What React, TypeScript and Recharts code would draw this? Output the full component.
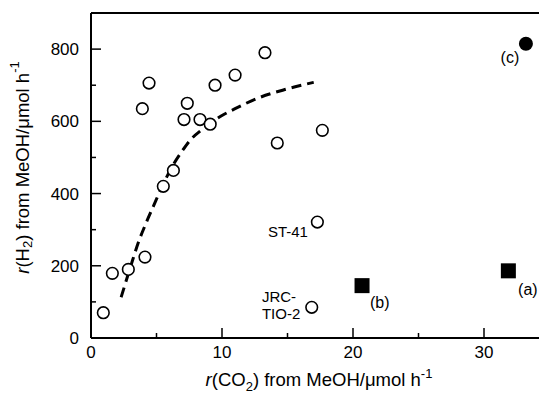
import React from 'react';
import {
  ComposedChart,
  Scatter,
  Line,
  XAxis,
  YAxis,
  ReferenceLine,
  ReferenceDot,
} from 'recharts';

// open circles: TiO2 samples
const openX = [0.94, 1.63, 2.85, 4.12, 5.52, 6.29, 7.1, 7.35, 8.32, 9.1, 9.47, 3.92, 4.43, 11.0, 13.28, 14.22, 17.66, 17.28, 16.85];
const openY = [70, 179, 190, 224, 420, 464, 605, 650, 605, 592, 700, 635, 706, 728, 790, 540, 575, 321, 85];

// filled squares (a), (b) and filled circle (c)
const squareX = [20.69, 31.86];
const squareY = [145, 186];
const dotX = [33.2];
const dotY = [815];

// dashed trend curve
const curveX = [2.3, 3.0, 3.6, 4.2, 4.8, 5.5, 6.2, 7.0, 7.6, 8.5, 9.3, 10.0, 11.0, 12.8, 14.8, 17.0];
const curveY = [113, 195, 263, 318, 368, 425, 475, 520, 549, 578, 600, 616, 635, 665, 688, 708];

const xTicks = [0, 5, 10, 15, 20, 25, 30, 35];
const yTicks = [0, 100, 200, 300, 400, 500, 600, 700, 800];

// text annotations anchored in data units
const notes = [
  { x: 31.98, y: 777, text: '(c)', anchor: 'middle', size: 16 },
  { x: 32.6, y: 133, text: '(a)', anchor: 'start', size: 16 },
  { x: 21.3, y: 97, text: '(b)', anchor: 'start', size: 16 },
  { x: 16.56, y: 294, text: 'ST-41', anchor: 'end', size: 15 },
  { x: 13.05, y: 114, text: 'JRC-', anchor: 'start', size: 15 },
  { x: 13.05, y: 69, text: 'TIO-2', anchor: 'start', size: 15 },
];

const FONT = '"Liberation Sans", Arial, sans-serif';

const openData = openX.map((x, i) => ({ x, y: openY[i] }));
const squareData = squareX.map((x, i) => ({ x, y: squareY[i] }));
const dotData = dotX.map((x, i) => ({ x, y: dotY[i] }));
const curveData = curveX.map((x, i) => ({ x, y: curveY[i] }));

const XTick = (props: any) => {
  const { x, y, payload } = props;
  const major = payload.value % 10 === 0;
  return (
    <g>
      <line x1={x} x2={x} y1={y} y2={y - (major ? 10 : 5)} stroke="#000" strokeWidth={1.5} />
      {major && (
        <text x={x} y={y + 20} textAnchor="middle" fontSize={17} fontFamily={FONT} fill="#000">
          {payload.value}
        </text>
      )}
    </g>
  );
};

const YTick = (props: any) => {
  const { x, y, payload } = props;
  const major = payload.value % 200 === 0;
  return (
    <g>
      <line x1={x} x2={x + (major ? 10 : 5)} y1={y} y2={y} stroke="#000" strokeWidth={1.5} />
      {major && (
        <text x={x - 12} y={y + 6} textAnchor="end" fontSize={17} fontFamily={FONT} fill="#000">
          {payload.value}
        </text>
      )}
    </g>
  );
};

const OpenCircle = (props: any) => (
  <circle cx={props.cx} cy={props.cy} r={5.8} fill="#fff" stroke="#000" strokeWidth={1.6} />
);
const FilledSquare = (props: any) => (
  <rect x={props.cx - 7.5} y={props.cy - 7.5} width={15} height={15} fill="#000" />
);
const FilledCircle = (props: any) => <circle cx={props.cx} cy={props.cy} r={7} fill="#000" />;

const YLabel = (props: any) => {
  const { viewBox } = props;
  const cx = 22;
  const cy = viewBox.y + viewBox.height / 2 - 8;
  return (
    <text
      x={cx}
      y={cy}
      transform={`rotate(-90, ${cx}, ${cy})`}
      textAnchor="middle"
      dominantBaseline="central"
      fontSize={18.5}
      fontFamily={FONT}
      fill="#000"
    >
      <tspan fontStyle="italic">r</tspan>
      <tspan>(H</tspan>
      <tspan fontSize={13} dy={5}>2</tspan>
      <tspan dy={-5}>) from MeOH/μmol h</tspan>
      <tspan fontSize={13} dy={-8}>-1</tspan>
    </text>
  );
};

const XLabel = (props: any) => {
  const { viewBox } = props;
  const cx = 319;
  const cy = viewBox.y + 48;
  return (
    <text x={cx} y={cy} textAnchor="middle" fontSize={18.5} fontFamily={FONT} fill="#000">
      <tspan fontStyle="italic">r</tspan>
      <tspan>(CO</tspan>
      <tspan fontSize={13} dy={5}>2</tspan>
      <tspan dy={-5}>) from MeOH/μmol h</tspan>
      <tspan fontSize={13} dy={-8}>-1</tspan>
    </text>
  );
};

export default function App() {
  return (
    <div style={{ position: 'absolute', left: 0, top: 0, width: 539, height: 393, overflow: 'hidden', background: '#fff' }}>
      <ComposedChart width={570} height={393} margin={{ top: 13, right: 20.5, bottom: 0, left: 0 }}>
        <XAxis
          type="number"
          dataKey="x"
          domain={[0, 35]}
          ticks={xTicks}
          interval={0}
          tickSize={0}
          tickMargin={0}
          tick={<XTick />}
          height={55}
          axisLine={{ stroke: '#000', strokeWidth: 2 }}
          allowDataOverflow
          label={<XLabel />}
        />
        <YAxis
          type="number"
          dataKey="y"
          domain={[0, 900]}
          ticks={yTicks}
          interval={0}
          tickSize={0}
          tickMargin={0}
          tick={<YTick />}
          width={91}
          axisLine={{ stroke: '#000', strokeWidth: 2 }}
          allowDataOverflow
          label={<YLabel />}
        />
        <ReferenceLine y={900} stroke="#000" strokeWidth={2} />
        <ReferenceLine x={35} stroke="#000" strokeWidth={2} />
        <Line
          data={curveData}
          dataKey="y"
          type="monotone"
          stroke="#000"
          strokeWidth={3}
          strokeDasharray="10 6"
          dot={false}
          activeDot={false}
          isAnimationActive={false}
        />
        <Scatter data={openData} shape={<OpenCircle />} isAnimationActive={false} />
        <Scatter data={squareData} shape={<FilledSquare />} isAnimationActive={false} />
        <Scatter data={dotData} shape={<FilledCircle />} isAnimationActive={false} />
        {notes.map((n) => (
          <ReferenceDot
            key={n.text}
            x={n.x}
            y={n.y}
            r={0}
            fill="none"
            stroke="none"
            label={(p: any) => (
              <text
                x={p.viewBox.x + (p.viewBox.width || 0) / 2}
                y={p.viewBox.y + (p.viewBox.height || 0) / 2}
                textAnchor={n.anchor}
                dominantBaseline="central"
                fontSize={n.size}
                fontFamily={FONT}
                fill="#000"
              >
                {n.text}
              </text>
            )}
          />
        ))}
      </ComposedChart>
    </div>
  );
}
